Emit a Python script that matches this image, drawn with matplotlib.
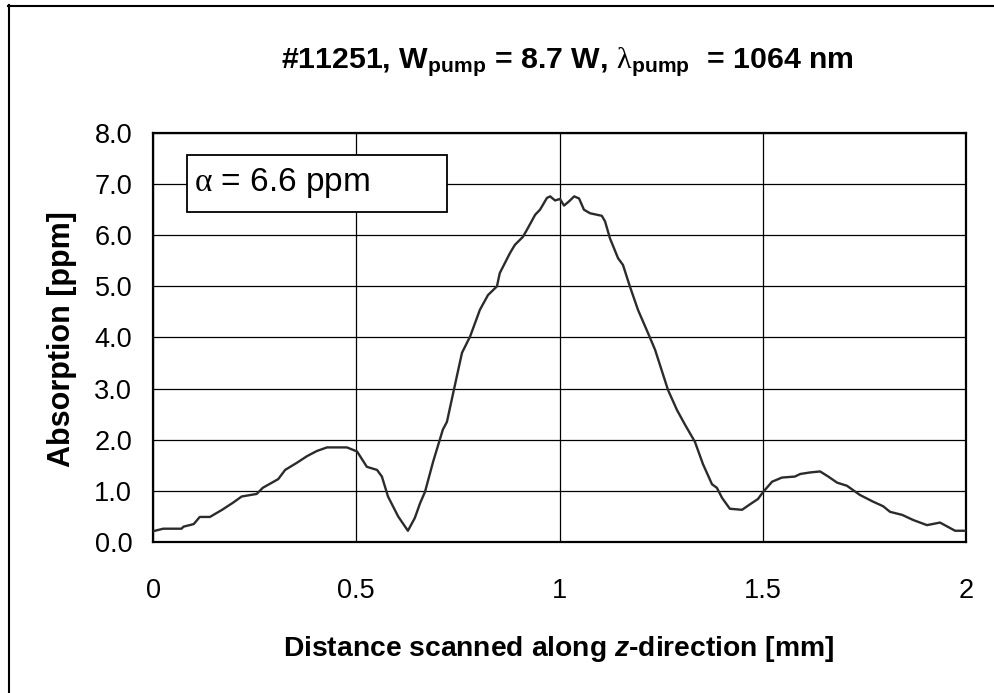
import matplotlib
matplotlib.use("Agg")
import matplotlib.pyplot as plt
from matplotlib.patches import Rectangle
from matplotlib.lines import Line2D

plt.rcParams['font.family'] = ['Liberation Sans', 'DejaVu Sans']
plt.rcParams['mathtext.fontset'] = 'custom'
plt.rcParams['mathtext.rm'] = 'Liberation Sans'
plt.rcParams['mathtext.bf'] = 'Liberation Sans:bold'
plt.rcParams['mathtext.it'] = 'Liberation Sans:italic:bold'
plt.rcParams['mathtext.sf'] = 'Liberation Serif'

# ---- data ----
distance_mm = [0.0, 0.025, 0.07, 0.075, 0.10, 0.115, 0.14, 0.17, 0.197, 0.218,
               0.255, 0.27, 0.308, 0.325, 0.354, 0.379, 0.403, 0.428, 0.477, 0.502,
               0.526, 0.551, 0.563, 0.578, 0.603, 0.627, 0.644, 0.657, 0.669, 0.689,
               0.713, 0.723, 0.738, 0.760, 0.780, 0.804, 0.824, 0.846, 0.853, 0.878,
               0.890, 0.910, 0.920, 0.940, 0.952, 0.969, 0.977, 0.989, 1.001, 1.011,
               1.023, 1.036, 1.048, 1.060, 1.075, 1.104, 1.112, 1.124, 1.144, 1.156,
               1.173, 1.193, 1.218, 1.235, 1.267, 1.289, 1.309, 1.333, 1.353, 1.375,
               1.387, 1.400, 1.419, 1.449, 1.469, 1.488, 1.501, 1.523, 1.547, 1.579,
               1.592, 1.616, 1.641, 1.661, 1.683, 1.707, 1.739, 1.771, 1.796, 1.813,
               1.843, 1.870, 1.904, 1.936, 1.973, 2.0]
absorption_ppm = [0.21, 0.26, 0.26, 0.30, 0.35, 0.49, 0.49, 0.63, 0.77, 0.89,
                  0.94, 1.06, 1.23, 1.41, 1.55, 1.68, 1.78, 1.85, 1.85, 1.77,
                  1.47, 1.41, 1.28, 0.89, 0.50, 0.22, 0.47, 0.76, 0.98, 1.57,
                  2.20, 2.35, 2.90, 3.70, 4.02, 4.54, 4.83, 5.00, 5.26, 5.65,
                  5.81, 5.97, 6.11, 6.40, 6.50, 6.73, 6.76, 6.68, 6.71, 6.58,
                  6.66, 6.76, 6.72, 6.50, 6.43, 6.38, 6.27, 5.94, 5.55, 5.42,
                  5.00, 4.54, 4.08, 3.76, 2.97, 2.58, 2.29, 1.96, 1.52, 1.13,
                  1.06, 0.86, 0.65, 0.63, 0.74, 0.84, 0.98, 1.18, 1.26, 1.28,
                  1.33, 1.36, 1.38, 1.28, 1.16, 1.10, 0.92, 0.79, 0.70, 0.59,
                  0.53, 0.43, 0.33, 0.38, 0.22, 0.22]
x_ticks = [0, 0.5, 1, 1.5, 2]
x_tick_labels = ['0', '0.5', '1', '1.5', '2']
y_ticks = [0, 1, 2, 3, 4, 5, 6, 7, 8]
y_tick_labels = ['0.0', '1.0', '2.0', '3.0', '4.0', '5.0', '6.0', '7.0', '8.0']

fig = plt.figure(figsize=(9.95, 6.93), dpi=100)
ax = fig.add_axes([0.1538, 0.2179, 0.8171, 0.5902])

ax.plot(distance_mm, absorption_ppm, color='#2b2b2b', lw=1.7, zorder=3)

ax.set_xlim(0, 2)
ax.set_ylim(0, 8)
ax.set_xticks(x_ticks)
ax.set_xticklabels(x_tick_labels)
ax.set_yticks(y_ticks)
ax.set_yticklabels(y_tick_labels)
ax.tick_params(length=0, labelsize=19.5)
ax.tick_params(axis='x', pad=26)
ax.tick_params(axis='y', pad=15)
ax.grid(True, color='black', lw=0.9)
ax.set_axisbelow(True)
for s in ax.spines.values():
    s.set_linewidth(1.6)
    s.set_color('black')

ax.set_xlabel('Distance scanned along $z$-direction [mm]', fontsize=20.3,
              fontweight='bold', va='top')
ax.xaxis.set_label_coords(0.499, -0.225)
ax.set_ylabel('Absorption [ppm]', fontsize=22, fontweight='bold')
ax.yaxis.set_label_coords(-0.093, 0.496)

fig.text(567.5 / 995, 1 - 68 / 693,
         r'#11251, W$_{\mathbf{pump}}$ = 8.7 W, $\mathsf{\lambda}_{\mathbf{pump}}$  = 1064 nm',
         ha='center', va='baseline', fontsize=21.8, fontweight='bold')

box = Rectangle((0.0418, 0.807), 0.3198, 0.139, transform=ax.transAxes,
                facecolor='white', edgecolor='black', lw=1.3, zorder=4)
ax.add_patch(box)
ax.text(0.05, 0.8765, r'$\mathsf{\alpha}$ = 6.6 ppm', transform=ax.transAxes,
        ha='left', va='center', fontsize=24, zorder=5)

# outer frame
fig.add_artist(Line2D([8.5 / 995, 8.5 / 995], [0, 1 - 5 / 693], color='black', lw=1.5))
fig.add_artist(Line2D([8 / 995, 1], [1 - 5.5 / 693, 1 - 5.5 / 693], color='black', lw=1.5))

fig.savefig('out.png', dpi=100)
